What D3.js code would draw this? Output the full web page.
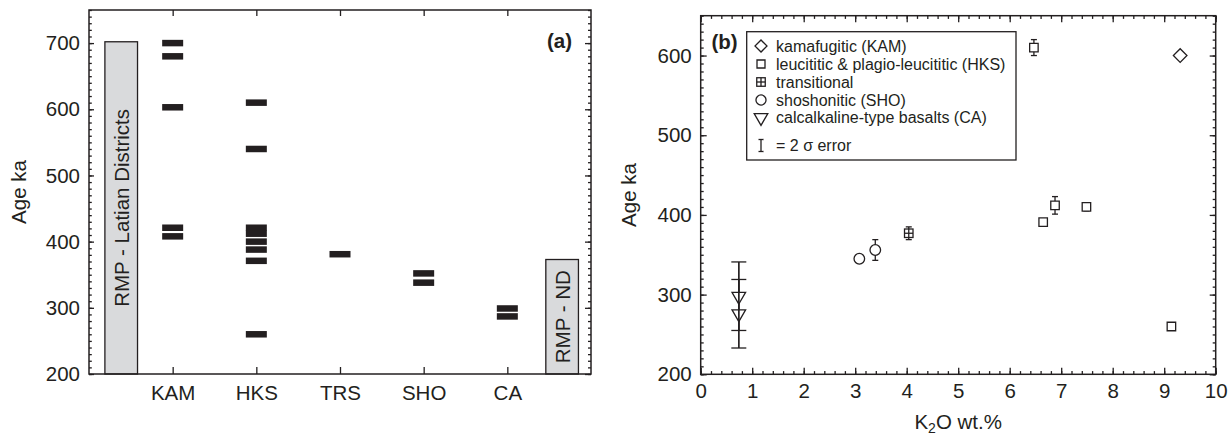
<!DOCTYPE html>
<html><head><meta charset="utf-8">
<script src="https://cdn.jsdelivr.net/npm/d3@7"></script>
<style>
html,body{margin:0;padding:0;background:#fff;}
svg{display:block;font-family:"Liberation Sans",Arial,Helvetica,sans-serif;}
</style></head>
<body><svg id="c" width="1228" height="439"></svg>
<script>
// ---------- Panel (a) data ----------
const catsA = ["KAM", "HKS", "TRS", "SHO", "CA"];
const agesKAM = [700, 680, 603, 421, 408];
const agesHKS = [610, 540, 421, 412, 400, 388, 371, 260];
const agesTRS = [381];
const agesSHO = [352, 338];
const agesCA = [299, 287];
const boxLabels = ["RMP - Latian Districts", "RMP - ND"];
const boxTops = [702, 373];
const yTicksA = [200, 300, 400, 500, 600, 700];

// ---------- Panel (b) data ----------
const k2oKAM = [9.31], ageKAMb = [600];
const k2oHKS = [6.47, 6.88, 7.49, 6.65, 9.14], ageHKSb = [610, 412, 410, 391, 260], errHKS = [10, 11, 5, 0, 0];
const k2oTRS = [4.04], ageTRSb = [377], errTRS = [8];
const k2oSHO = [3.08, 3.39], ageSHOb = [345, 356], errSHO = [0, 13];
const k2oCA = [0.74, 0.74], ageCAb = [298, 276], errCA = [43, 43];
const xTicksB = [0, 1, 2, 3, 4, 5, 6, 7, 8, 9, 10];
const yTicksB = [200, 300, 400, 500, 600];
const legendLabels = ["kamafugitic (KAM)", "leucititic & plagio-leucititic (HKS)", "transitional",
  "shoshonitic (SHO)", "calcalkaline-type basalts (CA)", "= 2 σ error"];

const INK = "#231f20";
const svg = d3.select("#c");
const FS = 20.5;

function minorTicks(lo, hi, step) { return d3.range(lo, hi + step / 2, step).map(v => +v.toFixed(4)); }
function styleAxis(g) {
  g.selectAll("path.domain").remove();
  g.selectAll("line").attr("stroke", INK).attr("stroke-width", 1.3);
  g.selectAll("text").attr("fill", INK).style("font-size", FS + "px").style("font-family", "inherit");
}

// ================= Panel (a) =================
const A = {l: 89, r: 591, t: 10, b: 374};
const xA = d3.scaleLinear().domain([0, 6]).range([A.l, A.r]);
const yA = d3.scaleLinear().domain([200, 750]).range([A.b, A.t]);
const ga = svg.append("g");

// grey boxes
const boxX = [[0.19, 0.58], [5.46, 5.85]];
boxTops.forEach((top, i) => {
  const x0 = xA(boxX[i][0]), x1 = xA(boxX[i][1]);
  ga.append("rect").attr("x", x0).attr("y", yA(top)).attr("width", x1 - x0).attr("height", yA(200) - yA(top))
    .attr("fill", "#d9dadc").attr("stroke", INK).attr("stroke-width", 1.3);
  const cx = (x0 + x1) / 2, cy = (yA(top) + yA(200)) / 2;
  ga.append("text").attr("transform", `translate(${cx + 7.5},${cy}) rotate(-90)`)
    .attr("text-anchor", "middle").attr("fill", INK).style("font-size", "20.5px").text(boxLabels[i]);
});

// bars
const agesA = [agesKAM, agesHKS, agesTRS, agesSHO, agesCA];
const barW = 21, barH = 6.5;
agesA.forEach((arr, i) => {
  ga.selectAll(null).data(arr).enter().append("rect")
    .attr("x", xA(i + 1) - barW / 2).attr("y", d => yA(d) - barH / 2)
    .attr("width", barW).attr("height", barH).attr("fill", INK);
});

// axes a
ga.append("g").attr("transform", `translate(${A.l},0)`)
  .call(d3.axisLeft(yA).tickValues(yTicksA).tickSize(-5).tickPadding(9).tickFormat(d3.format("d"))).call(styleAxis);
ga.append("g").attr("transform", `translate(${A.l},0)`)
  .call(d3.axisLeft(yA).tickValues(minorTicks(200, 750, 10)).tickSize(-2.8).tickFormat("")).call(styleAxis);
ga.append("g").attr("transform", `translate(${A.r},0)`)
  .call(d3.axisRight(yA).tickValues(yTicksA).tickSize(-6).tickFormat("")).call(styleAxis);
ga.append("g").attr("transform", `translate(${A.r},0)`)
  .call(d3.axisRight(yA).tickValues(minorTicks(200, 750, 10)).tickSize(-3).tickFormat("")).call(styleAxis);
ga.append("g").attr("transform", `translate(0,${A.b})`)
  .call(d3.axisBottom(xA).tickValues([1, 2, 3, 4, 5]).tickSize(-7).tickPadding(11).tickFormat(i => catsA[i - 1])).call(styleAxis);
ga.append("g").attr("transform", `translate(0,${A.t})`)
  .call(d3.axisTop(xA).tickValues([1, 2, 3, 4, 5]).tickSize(-6).tickFormat("")).call(styleAxis);
ga.append("rect").attr("x", A.l).attr("y", A.t).attr("width", A.r - A.l).attr("height", A.b - A.t)
  .attr("fill", "none").attr("stroke", INK).attr("stroke-width", 1.5);
ga.append("text").attr("x", 572).attr("y", 48).attr("text-anchor", "end").attr("fill", INK)
  .style("font-size", "20.5px").style("font-weight", "bold").text("(a)");
ga.append("text").attr("transform", `translate(26,${(A.t + A.b) / 2}) rotate(-90)`).attr("text-anchor", "middle")
  .attr("fill", INK).style("font-size", FS + "px").text("Age ka");

// ================= Panel (b) =================
const B = {l: 700.7, r: 1215.7, t: 15.7, b: 374.3};
const xB = d3.scaleLinear().domain([0, 10]).range([B.l, B.r]);
const yB = d3.scaleLinear().domain([200, 650]).range([B.b, B.t]);
const gb = svg.append("g");

gb.append("g").attr("transform", `translate(0,${B.b})`)
  .call(d3.axisBottom(xB).tickValues(xTicksB).tickSize(-6.5).tickPadding(9).tickFormat(d3.format("d"))).call(styleAxis);
gb.append("g").attr("transform", `translate(0,${B.b})`)
  .call(d3.axisBottom(xB).tickValues(minorTicks(0, 10, 0.2)).tickSize(-3.2).tickFormat("")).call(styleAxis);
gb.append("g").attr("transform", `translate(0,${B.t})`)
  .call(d3.axisTop(xB).tickValues(xTicksB).tickSize(-6.5).tickFormat("")).call(styleAxis);
gb.append("g").attr("transform", `translate(0,${B.t})`)
  .call(d3.axisTop(xB).tickValues(minorTicks(0, 10, 0.2)).tickSize(-3.2).tickFormat("")).call(styleAxis);
gb.append("g").attr("transform", `translate(${B.l},0)`)
  .call(d3.axisLeft(yB).tickValues(yTicksB).tickSize(-6).tickPadding(9).tickFormat(d3.format("d"))).call(styleAxis);
gb.append("g").attr("transform", `translate(${B.l},0)`)
  .call(d3.axisLeft(yB).tickValues(minorTicks(200, 650, 10)).tickSize(-3).tickFormat("")).call(styleAxis);
gb.append("g").attr("transform", `translate(${B.r},0)`)
  .call(d3.axisRight(yB).tickValues(yTicksB).tickSize(-6).tickFormat("")).call(styleAxis);
gb.append("g").attr("transform", `translate(${B.r},0)`)
  .call(d3.axisRight(yB).tickValues(minorTicks(200, 650, 10)).tickSize(-3).tickFormat("")).call(styleAxis);
gb.append("rect").attr("x", B.l).attr("y", B.t).attr("width", B.r - B.l).attr("height", B.b - B.t)
  .attr("fill", "none").attr("stroke", INK).attr("stroke-width", 1.5);

gb.append("text").attr("transform", `translate(636,${(B.t + B.b) / 2}) rotate(-90)`).attr("text-anchor", "middle")
  .attr("fill", INK).style("font-size", FS + "px").text("Age ka");
const xt = gb.append("text").attr("x", (B.l + B.r) / 2).attr("y", 429).attr("text-anchor", "middle")
  .attr("fill", INK).style("font-size", FS + "px");
xt.append("tspan").text("K");
xt.append("tspan").attr("dy", 4).style("font-size", "14px").text("2");
xt.append("tspan").attr("dy", -4).text("O wt.%");
gb.append("text").attr("x", 711.5).attr("y", 48.5).attr("fill", INK)
  .style("font-size", "20.5px").style("font-weight", "bold").text("(b)");

// symbol helpers
const sw = 1.3;
function sym(g, type, x, y, size, rot) {
  g.append("path").attr("d", d3.symbol().type(type).size(size)())
    .attr("transform", `translate(${x},${y}) rotate(${rot || 0})`)
    .attr("fill", "#fff").attr("stroke", INK).attr("stroke-width", sw);
}
function errBar(g, x, y0, y1, cap) {
  g.append("line").attr("x1", x).attr("x2", x).attr("y1", y0).attr("y2", y1).attr("stroke", INK).attr("stroke-width", sw);
  [y0, y1].forEach(yy => g.append("line").attr("x1", x - cap / 2).attr("x2", x + cap / 2).attr("y1", yy).attr("y2", yy)
    .attr("stroke", INK).attr("stroke-width", sw));
}
function plusSquare(g, x, y, s) {
  g.append("rect").attr("x", x - s / 2).attr("y", y - s / 2).attr("width", s).attr("height", s)
    .attr("fill", "#fff").attr("stroke", INK).attr("stroke-width", sw);
  g.append("line").attr("x1", x - s / 2).attr("x2", x + s / 2).attr("y1", y).attr("y2", y).attr("stroke", INK).attr("stroke-width", sw);
  g.append("line").attr("x1", x).attr("x2", x).attr("y1", y - s / 2).attr("y2", y + s / 2).attr("stroke", INK).attr("stroke-width", sw);
}

// error bars first
k2oCA.forEach((k, i) => errBar(gb, xB(k), yB(ageCAb[i] + errCA[i]), yB(ageCAb[i] - errCA[i]), 15));
k2oHKS.forEach((k, i) => { if (errHKS[i]) errBar(gb, xB(k), yB(ageHKSb[i] + errHKS[i]), yB(ageHKSb[i] - errHKS[i]), 6); });
k2oTRS.forEach((k, i) => errBar(gb, xB(k), yB(ageTRSb[i] + errTRS[i]), yB(ageTRSb[i] - errTRS[i]), 6));
k2oSHO.forEach((k, i) => { if (errSHO[i]) errBar(gb, xB(k), yB(ageSHOb[i] + errSHO[i]), yB(ageSHOb[i] - errSHO[i]), 6); });

// markers
k2oKAM.forEach((k, i) => sym(gb, d3.symbolSquare, xB(k), yB(ageKAMb[i]), 92, 45));
k2oHKS.forEach((k, i) => sym(gb, d3.symbolSquare, xB(k), yB(ageHKSb[i]), 72));
k2oTRS.forEach((k, i) => plusSquare(gb, xB(k), yB(ageTRSb[i]), 8.5));
k2oSHO.forEach((k, i) => sym(gb, d3.symbolCircle, xB(k), yB(ageSHOb[i]), 88));
k2oCA.forEach((k, i) => sym(gb, d3.symbolTriangle, xB(k), yB(ageCAb[i]), 80, 180));
// redraw CA error line over triangles (as in original)
k2oCA.forEach((k, i) => gb.append("line").attr("x1", xB(k)).attr("x2", xB(k))
  .attr("y1", yB(ageCAb[i] + errCA[i])).attr("y2", yB(ageCAb[i] - errCA[i])).attr("stroke", INK).attr("stroke-width", sw));

// legend
const lg = gb.append("g");
lg.append("rect").attr("x", 746.7).attr("y", 31.7).attr("width", 1016 - 746.7).attr("height", 160 - 31.7)
  .attr("fill", "#fff").attr("stroke", INK).attr("stroke-width", 1.3);
const ly = [46, 64, 82, 100, 117.5, 145.5];
const lx = 761;
sym(lg, d3.symbolSquare, lx, ly[0], 72, 45);
sym(lg, d3.symbolSquare, lx, ly[1], 64);
plusSquare(lg, lx, ly[2], 8.5);
sym(lg, d3.symbolCircle, lx, ly[3], 80);
sym(lg, d3.symbolTriangle, lx, ly[4], 80, 180);
errBar(lg, lx, ly[5] - 6, ly[5] + 6, 5);
legendLabels.forEach((t, i) => lg.append("text").attr("x", 776).attr("y", ly[i] + 5.5).attr("fill", INK)
  .style("font-size", "16px").text(t));
</script></body></html>
